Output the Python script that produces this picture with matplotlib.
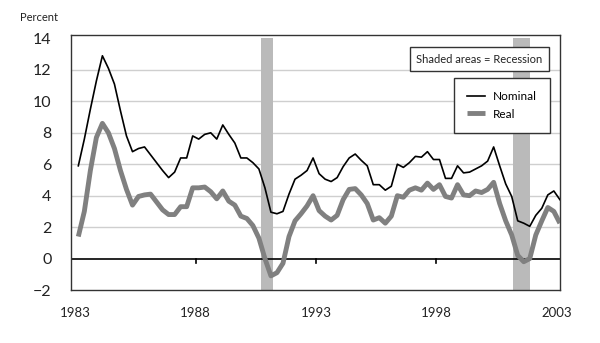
import numpy as np
import matplotlib.pyplot as plt

plt.rcParams['font.family'] = ['Lato', 'DejaVu Sans']

# quarterly, 1983Q1 .. 2003Q1
nominal = [5.9, 7.6, 9.5, 11.3,
           12.9, 12.1, 11.1, 9.4,
           7.8, 6.8, 7.0, 7.1,
           6.6, 6.1, 5.6, 5.15,
           5.5, 6.4, 6.4, 7.8,
           7.6, 7.9, 8.0, 7.6,
           8.5, 7.9, 7.35, 6.4,
           6.4, 6.1, 5.7, 4.5,
           2.95, 2.85, 3.0, 4.1,
           5.05, 5.3, 5.6, 6.4,
           5.4, 5.05, 4.9, 5.15,
           5.85, 6.4, 6.65, 6.25,
           5.9, 4.7, 4.7, 4.35,
           4.6, 6.0, 5.8, 6.1,
           6.5, 6.45, 6.8, 6.3,
           6.3, 5.1, 5.1, 5.9,
           5.45, 5.5, 5.7, 5.9,
           6.2, 7.1, 5.9, 4.75,
           3.95, 2.4, 2.25, 2.05,
           2.75, 3.2, 4.05, 4.3,
           3.75]
real = [1.4, 3.0, 5.6, 7.7,
        8.6, 8.0, 7.0, 5.6,
        4.4, 3.4, 3.95, 4.05,
        4.1, 3.6, 3.1, 2.8,
        2.8, 3.3, 3.3, 4.5,
        4.5, 4.55, 4.25, 3.8,
        4.3, 3.65, 3.4, 2.7,
        2.55, 2.1, 1.3, 0.0,
        -1.1, -0.9, -0.3, 1.4,
        2.4, 2.85, 3.35, 4.0,
        3.05, 2.7, 2.45, 2.75,
        3.75, 4.4, 4.45, 4.05,
        3.5, 2.45, 2.6, 2.25,
        2.7, 4.0, 3.9, 4.35,
        4.5, 4.35, 4.8, 4.4,
        4.7, 3.95, 3.85, 4.7,
        4.05, 4.0, 4.3, 4.2,
        4.4, 4.85, 3.5, 2.4,
        1.5, 0.2, -0.2, 0.0,
        1.5, 2.4, 3.25, 3.0,
        2.25]
recessions = [(1990.7, 1991.22), (2001.17, 2001.88)]
tick_years = [1983, 1988, 1993, 1998, 2003]
y_ticks = [-2, 0, 2, 4, 6, 8, 10, 12, 14]

t = 1983.125 + np.arange(len(nominal)) / 4.0

fig = plt.figure(figsize=(6, 3.43), dpi=100)
ax = fig.add_axes([0.1183, 0.1545, 0.815, 0.7434])

for a, b in recessions:
    ax.fill_between([a, b], -2.5, 14, color='#bababa', lw=0, zorder=1)

for y in y_ticks[2:-1]:
    ax.axhline(y, color='#cfcfcf', lw=1, zorder=0)
ax.axhline(0, color='black', lw=1.2, zorder=2)
# little ticks on the zero line
for yr in tick_years[1:-1]:
    ax.plot([yr, yr], [0, -0.3], color='black', lw=1.2, zorder=2)

ax.plot(t, real, color='#808080', lw=3.5, label='Real', zorder=3, solid_capstyle='butt')
ax.plot(t, nominal, color='black', lw=1.2, label='Nominal', zorder=4)

ax.set_xlim(1982.82, 2003.13)
ax.set_ylim(-1.97, 14.22)
ax.set_xticks(tick_years)
ax.set_xticklabels([str(y) for y in tick_years], fontsize=9.5, color='#222222')
ax.set_yticks(y_ticks)
ax.set_yticklabels([str(y).replace('-', '\u2212') for y in y_ticks], fontsize=11.5, color='#222222')
ax.tick_params(axis='x', length=0, pad=12)
ax.tick_params(axis='y', length=0, pad=14)
for s in ax.spines.values():
    s.set_color('#333333')
    s.set_linewidth(1)

fig.text(0.033, 0.95, 'Percent', fontsize=8, color='#222222', va='center')

ax.text(0.9645, 0.905, 'Shaded areas = Recession', transform=ax.transAxes,
        ha='right', va='center', fontsize=8, color='#222222', zorder=6,
        bbox=dict(boxstyle='square,pad=0.6', fc='white', ec='#333333', lw=1))

h, l = ax.get_legend_handles_labels()
leg = ax.legend(h[::-1], l[::-1], loc='upper right', bbox_to_anchor=(0.9796, 0.831),
                borderaxespad=0, fontsize=8.5, fancybox=False, edgecolor='#333333',
                framealpha=1, handlelength=1.5, handletextpad=0.7,
                borderpad=1.1, labelspacing=0.55)
leg.get_frame().set_linewidth(1)
leg.set_zorder(6)

fig.savefig('out.png', dpi=100)
